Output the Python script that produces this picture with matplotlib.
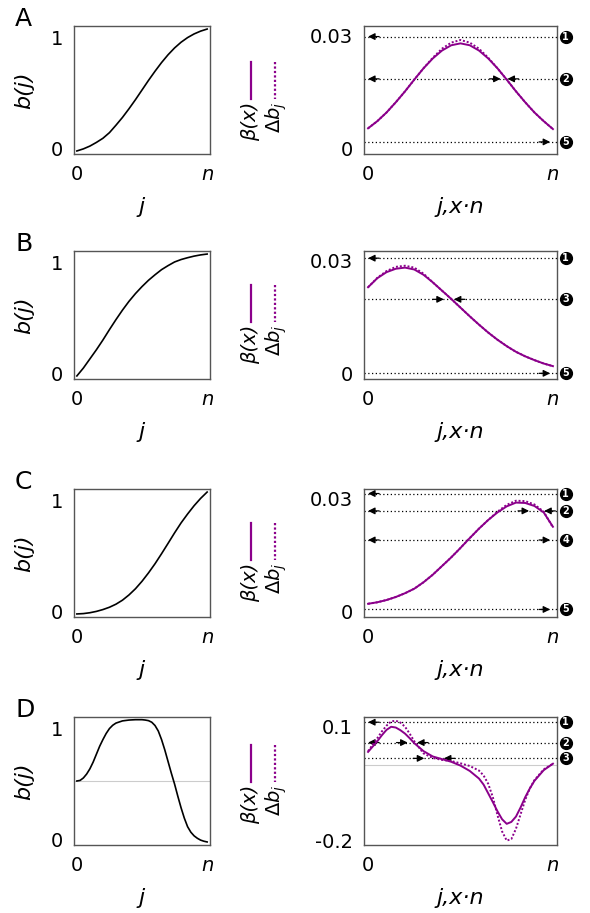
import matplotlib
matplotlib.use('Agg')
import matplotlib.pyplot as plt
from matplotlib.lines import Line2D
from matplotlib import transforms

# ---- data ---------------------------------------------------------------
x_grid = [0.00, 0.05, 0.10, 0.15, 0.20, 0.25, 0.30, 0.35, 0.40, 0.45, 0.50,
          0.55, 0.60, 0.65, 0.70, 0.75, 0.80, 0.85, 0.90, 0.95, 1.00]

# panel A
A_b = [0.000, 0.017, 0.040, 0.070, 0.104, 0.150, 0.211, 0.275, 0.346, 0.421, 0.500,
       0.579, 0.654, 0.725, 0.789, 0.845, 0.892, 0.930, 0.960, 0.983, 1.000]
A_beta = [0.0053, 0.0072, 0.0095, 0.0122, 0.0151, 0.0182, 0.0212, 0.0238, 0.0259, 0.0273, 0.0278,
          0.0273, 0.0259, 0.0238, 0.0212, 0.0182, 0.0151, 0.0122, 0.0095, 0.0072, 0.0051]
A_db = [0.0053, 0.0072, 0.0095, 0.0122, 0.0151, 0.0182, 0.0212, 0.0240, 0.0264, 0.0280, 0.0287,
        0.0280, 0.0264, 0.0240, 0.0212, 0.0182, 0.0151, 0.0122, 0.0095, 0.0072, 0.0051]

# panel B
B_b = [0.000, 0.065, 0.140, 0.215, 0.295, 0.380, 0.462, 0.540, 0.612, 0.676, 0.733,
       0.785, 0.830, 0.872, 0.905, 0.935, 0.955, 0.970, 0.983, 0.993, 1.000]
B_beta = [0.0228, 0.0252, 0.0268, 0.0277, 0.0280, 0.0275, 0.0261, 0.0241, 0.0219, 0.0197, 0.0174,
          0.0151, 0.0129, 0.0108, 0.0089, 0.0072, 0.0057, 0.0045, 0.0035, 0.0026, 0.0019]
B_db = [0.0228, 0.0253, 0.0271, 0.0282, 0.0285, 0.0280, 0.0264, 0.0241, 0.0219, 0.0197, 0.0174,
        0.0151, 0.0129, 0.0108, 0.0089, 0.0072, 0.0057, 0.0045, 0.0035, 0.0026, 0.0019]

# panel C
C_b = [0.000, 0.003, 0.010, 0.021, 0.036, 0.055, 0.080, 0.113, 0.156, 0.207, 0.268,
       0.337, 0.412, 0.494, 0.579, 0.665, 0.747, 0.820, 0.888, 0.948, 1.000]
C_beta = [0.0020, 0.0024, 0.0030, 0.0038, 0.0048, 0.0060, 0.0077, 0.0097, 0.0120, 0.0143, 0.0168,
          0.0194, 0.0219, 0.0242, 0.0262, 0.0278, 0.0288, 0.0287, 0.0279, 0.0262, 0.0224]
C_db = [0.0020, 0.0024, 0.0030, 0.0038, 0.0048, 0.0060, 0.0077, 0.0097, 0.0120, 0.0143, 0.0168,
        0.0194, 0.0219, 0.0242, 0.0264, 0.0282, 0.0293, 0.0292, 0.0283, 0.0264, 0.0222]

# panel D (finer sampling where the curves bend sharply)
D_xb = [0.000, 0.025, 0.050, 0.075, 0.100, 0.125, 0.150, 0.175, 0.200, 0.225, 0.250, 0.275,
        0.300, 0.350, 0.400, 0.450, 0.500, 0.525, 0.550, 0.575, 0.600, 0.625, 0.650, 0.675,
        0.700, 0.725, 0.750, 0.775, 0.800, 0.825, 0.850, 0.875, 0.900, 0.925, 0.950, 0.975, 1.000]
D_b = [0.500, 0.505, 0.525, 0.557, 0.600, 0.655, 0.720, 0.785, 0.840, 0.890, 0.930, 0.957,
       0.975, 0.993, 1.000, 1.003, 1.003, 1.000, 0.995, 0.982, 0.955, 0.910, 0.840, 0.755,
       0.660, 0.565, 0.475, 0.375, 0.280, 0.195, 0.125, 0.080, 0.050, 0.030, 0.015, 0.006, 0.000]
D_x = [0.000, 0.025, 0.050, 0.075, 0.100, 0.125, 0.150, 0.175, 0.200, 0.225, 0.250, 0.300,
       0.350, 0.400, 0.450, 0.500, 0.550, 0.600, 0.625, 0.650, 0.675, 0.700, 0.725, 0.750,
       0.775, 0.800, 0.825, 0.850, 0.875, 0.900, 0.950, 1.000]
D_beta = [0.034, 0.048, 0.062, 0.078, 0.092, 0.100, 0.098, 0.091, 0.082, 0.070, 0.057, 0.036,
          0.022, 0.015, 0.008, -0.002, -0.016, -0.036, -0.052, -0.075, -0.098, -0.122, -0.143, -0.155,
          -0.150, -0.136, -0.112, -0.085, -0.062, -0.042, -0.014, 0.003]
D_db = [0.036, 0.053, 0.070, 0.088, 0.103, 0.114, 0.116, 0.111, 0.100, 0.082, 0.062, 0.030,
        0.018, 0.013, 0.010, 0.004, -0.003, -0.015, -0.028, -0.050, -0.085, -0.132, -0.175, -0.199,
        -0.195, -0.168, -0.130, -0.092, -0.062, -0.040, -0.012, 0.003]

# guide levels (dotted arrows) on the right panels: level, number, arrow tips
A_guides = [(0.0296, 1, [(0.0, '<')]),
            (0.0184, 2, [(0.0, '<'), (0.717, '>'), (0.754, '<')]),
            (0.0017, 5, [(0.985, '>')])]
B_guides = [(0.0305, 1, [(0.0, '<')]),
            (0.0196, 3, [(0.41, '>'), (0.464, '<')]),
            (0.0000, 5, [(0.985, '>')])]
C_guides = [(0.0312, 1, [(0.0, '<')]),
            (0.0266, 2, [(0.0, '<'), (0.871, '>'), (0.953, '<')]),
            (0.0189, 4, [(0.0, '<'), (0.985, '>')]),
            (0.0005, 5, [(0.985, '>')])]
D_guides = [(0.112, 1, [(0.0, '<')]),
            (0.0585, 2, [(0.0, '<'), (0.214, '>'), (0.265, '<')]),
            (0.017, 3, [(0.304, '>'), (0.41, '<')])]

panels = [
    ('A', x_grid, A_b, x_grid, A_beta, A_db, A_guides, ['0', '0.03'], [0, 0.03], (-0.0015, 0.0324)),
    ('B', x_grid, B_b, x_grid, B_beta, B_db, B_guides, ['0', '0.03'], [0, 0.03], (-0.0015, 0.0324)),
    ('C', x_grid, C_b, x_grid, C_beta, C_db, C_guides, ['0', '0.03'], [0, 0.03], (-0.0015, 0.0324)),
    ('D', D_xb, D_b, D_x, D_beta, D_db, D_guides, ['-0.2', '0.1'], [-0.2, 0.1], (-0.2106, 0.1257)),
]

# ---- layout (pixels of a 590 x 913 canvas) --------------------------------
W, H = 590, 913
tops = [26, 251, 489, 717]
legend_off = [36, 34, 34, 28]
purple = '#8b008b'
frame = '#555555'

plt.rcParams['font.family'] = 'DejaVu Sans'
fig = plt.figure(figsize=(W / 100, H / 100), dpi=100)


def px_axes(x0, x1, top, h=128):
    return fig.add_axes([x0 / W, 1 - (top + h) / H, (x1 - x0) / W, h / H])


def style(ax):
    for s in ax.spines.values():
        s.set_color(frame)
        s.set_linewidth(1.0)
    ax.tick_params(length=0, labelsize=14, pad=8)
    ax.set_xlim(-0.022, 1.022)
    ax.set_xticks([0, 1], ['0', 'n'])
    ax.get_xticklabels()[1].set_fontstyle('italic')


for k, (letter, xl, bl, xr, beta, db, guides, ylab, yt, ylim) in enumerate(panels):
    top = tops[k]

    # left: b(j)
    ax = px_axes(74, 210, top)
    style(ax)
    ax.plot(xl, bl, color='black', lw=1.2)
    if letter == 'D':
        ax.axhline(0.5, color='#cccccc', lw=0.8, zorder=0)
    ax.set_ylim(-0.025, 1.025)
    ax.set_yticks([0, 1], ['0', '1'])
    lbls = ax.get_yticklabels()
    lbls[0].set_transform(lbls[0].get_transform() + transforms.ScaledTranslation(0, 2 / 100, fig.dpi_scale_trans))
    lbls[1].set_transform(lbls[1].get_transform() + transforms.ScaledTranslation(0, -8 / 100, fig.dpi_scale_trans))
    ax.set_xlabel('j', fontsize=16, style='italic', labelpad=9)
    ax.set_ylabel('b(j)', fontsize=16, style='italic', labelpad=12)

    fig.text(15 / W, 1 - top / H, letter, fontsize=18, va='baseline', ha='left')

    # right: beta(x) and delta b_j
    ax2 = px_axes(364, 557, top)
    style(ax2)
    if letter == 'D':
        ax2.axhline(0, color='#cccccc', lw=0.8, zorder=0)
    ytr = ax2.get_yaxis_transform()
    for lev, num, tips in guides:
        ax2.axhline(lev, color='black', lw=0.9, ls=(0, (1, 2)), zorder=1)
        ax2.plot([1.045], [lev], 'o', ms=8.5, color='black', transform=ytr, clip_on=False)
        ax2.text(1.045, lev, str(num), transform=ytr, color='white', fontsize=7,
                 fontweight='bold', va='center', ha='center', clip_on=False)
        for tx, d in tips:
            tail = tx + 0.06 if d == '<' else tx - 0.06
            ax2.annotate('', xy=(tx, lev), xytext=(tail, lev),
                         arrowprops=dict(arrowstyle='-|>', color='black', lw=0.9,
                                         mutation_scale=10, shrinkA=0, shrinkB=0))
    ax2.plot(xr, beta, color=purple, lw=1.4, zorder=3)
    ax2.plot(xr, db, color=purple, lw=1.4, ls=(0, (1, 1)), zorder=3)
    ax2.set_ylim(*ylim)
    ax2.set_yticks(yt, ylab)
    ax2.set_xlabel('j,x·n', fontsize=16, style='italic', labelpad=9)

    # legend between the panels
    y0 = top + legend_off[k]
    for xp, ls in [(251, '-'), (275, (0, (1, 1)))]:
        fig.add_artist(Line2D([xp / W, xp / W], [1 - y0 / H, 1 - (y0 + 37) / H],
                              color=purple, lw=1.6, ls=ls, transform=fig.transFigure))
    fig.text(251 / W, 1 - (y0 + 40) / H, 'β(x)', rotation=90, fontsize=14,
             style='italic', ha='center', va='top')
    fig.text(276 / W, 1 - (y0 + 40) / H, r'$\Delta b_j$', rotation=90, fontsize=14,
             ha='center', va='top')

fig.savefig('out.png', dpi=100)
